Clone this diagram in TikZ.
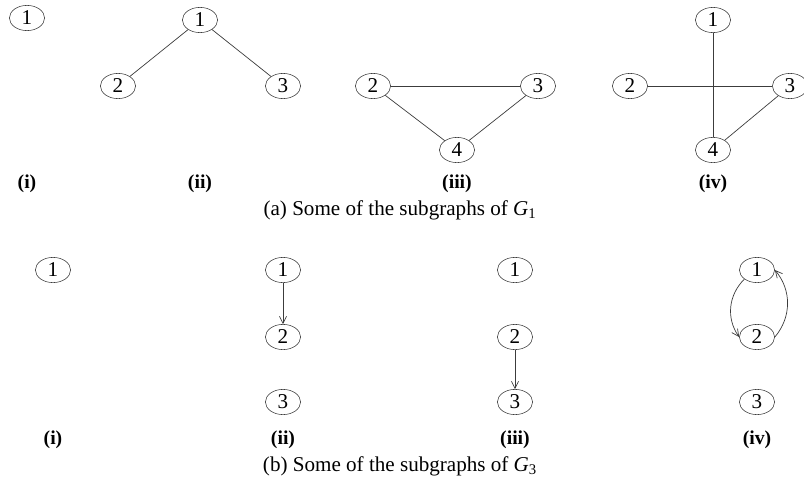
\documentclass[tikz,border=0pt]{standalone}
\usepackage{fontspec}
\setmainfont{Liberation Serif}
\usetikzlibrary{shapes.geometric,arrows.meta}
\definecolor{edgegray}{RGB}{60,60,60}

\tikzset{
  vert/.style={draw=edgegray, ellipse, minimum width=0.88cm, minimum height=0.63cm, inner sep=0pt, font=\fontsize{15}{17}\selectfont},
  link/.style={draw=edgegray, line width=0.5pt},
  arc/.style={link, -{Straight Barb[length=5pt,width=5pt]}},
  sublabel/.style={font=\fontsize{14}{16}\selectfont\bfseries},
  caption/.style={font=\fontsize{15}{17}\selectfont}
}

\begin{document}
\begin{tikzpicture}[x=0.025cm, y=-0.025cm]
  \useasboundingbox (0,0) rectangle (804,480);
  % (a) undirected subgraphs
  \node[vert] (ai1) at (27,18) {1};
  \node[vert] (aii1) at (200,20) {1};
  \node[vert] (aii2) at (118,86) {2};
  \node[vert] (aii3) at (283,86) {3};
  \node[vert] (aiii2) at (373,86) {2};
  \node[vert] (aiii3) at (538,86) {3};
  \node[vert] (aiii4) at (457,150) {4};
  \node[vert] (aiv1) at (713,20) {1};
  \node[vert] (aiv2) at (630,86) {2};
  \node[vert] (aiv3) at (790,86) {3};
  \node[vert] (aiv4) at (713,150) {4};
  \draw[link] (aii1) -- (aii2);
  \draw[link] (aii1) -- (aii3);
  \draw[link] (aiii2) -- (aiii3);
  \draw[link] (aiii2) -- (aiii4);
  \draw[link] (aiii3) -- (aiii4);
  \draw[link] (aiv1) -- (aiv4);
  \draw[link] (aiv2) -- (aiv3);
  \draw[link] (aiv3) -- (aiv4);
  \foreach \lab/\x in {i/27,ii/200,iii/457,iv/713} {
    \node[sublabel] (la\lab) at (\x,184) {(\lab)};
  }
  \node[caption] (capa) at (400,210) {(a) Some of the subgraphs of \textit{G}\textsubscript{1}};
  % (b) directed subgraphs
  \node[vert] (bi1) at (53,270) {1};
  \foreach \g/\x in {ii/283,iii/515,iv/757} {
    \node[vert] (b\g1) at (\x,270) {1};
    \node[vert] (b\g2) at (\x,337) {2};
    \node[vert] (b\g3) at (\x,402) {3};
  }
  \draw[arc] (bii1) -- (bii2);
  \draw[arc] (biii2) -- (biii3);
  \draw[arc] (biv1.south west) to[bend right=40] (biv2.west);
  \draw[arc] (biv2.east) to[bend right=40] (biv1.east);
  \foreach \lab/\x in {i/53,ii/283,iii/515,iv/757} {
    \node[sublabel] (lb\lab) at (\x,440) {(\lab)};
  }
  \node[caption] (capb) at (400,466) {(b) Some of the subgraphs of \textit{G}\textsubscript{3}};
\end{tikzpicture}
\end{document}
